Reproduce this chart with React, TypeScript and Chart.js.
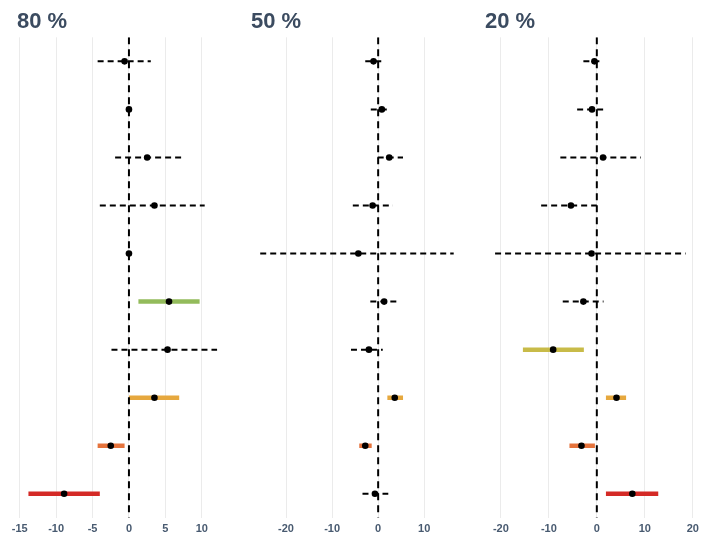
import React, { useEffect, useRef } from "react";
import { Chart, registerables } from "chart.js";

Chart.register(...registerables);

// Row positions (top to bottom) shared by all three panels
const rowIds = [1, 2, 3, 4, 5, 6, 7, 8, 9, 10];

// 80 % panel
const est80 = [-0.6, 0.0, 2.5, 3.5, 0.0, 5.5, 5.3, 3.5, -2.5, -8.9];
const lo80 = [-4.3, 0.0, -1.9, -4.0, 0.0, 1.3, -2.4, 0.0, -4.3, -13.8];
const hi80 = [3.0, 0.0, 7.3, 10.4, 0.0, 9.7, 12.1, 6.9, -0.6, -4.0];
const sig80 = ["ns", "ns", "ns", "ns", "ns", "green", "ns", "amber", "orange", "red"];
const ticks80 = [-15, -10, -5, 0, 5, 10];

// 50 % panel
const est50 = [-1.0, 0.8, 2.4, -1.2, -4.3, 1.3, -2.0, 3.6, -2.8, -0.7];
const lo50 = [-2.8, -1.6, -0.1, -5.5, -25.6, -1.7, -5.9, 2.0, -4.1, -3.4];
const hi50 = [0.8, 2.4, 5.4, 3.2, 16.4, 4.1, 1.0, 5.4, -1.4, 2.2];
const sig50 = ["ns", "ns", "ns", "ns", "ns", "ns", "ns", "amber", "orange", "ns"];
const ticks50 = [-20, -10, 0, 10];

// 20 % panel
const est20 = [-0.5, -1.0, 1.3, -5.4, -1.1, -2.8, -9.1, 4.1, -3.2, 7.4];
const lo20 = [-2.8, -4.1, -7.6, -11.6, -21.2, -7.1, -15.4, 1.9, -5.7, 1.9];
const hi20 = [1.0, 2.1, 9.2, 0.0, 18.5, 1.4, -2.7, 6.1, -0.4, 12.8];
const sig20 = ["ns", "ns", "ns", "ns", "ns", "ns", "olive", "amber", "orange", "red"];
const ticks20 = [-20, -10, 0, 10, 20];

const sigColors: Record<string, string> = {
  green: "#93bb5b",
  olive: "#c8bb48",
  amber: "#e6a83e",
  orange: "#e5733c",
  red: "#d42a26",
};

const FONT = "'Liberation Sans', Arial, sans-serif";
const TEXT = "#3b4b60";

type PanelSpec = {
  title: string;
  est: number[];
  lo: number[];
  hi: number[];
  sig: string[];
  ticks: number[];
  min: number;
  max: number;
  left: number;
  width: number;
  padLeft: number;
  padRight: number;
};

const panels: PanelSpec[] = [
  { title: "80 %", est: est80, lo: lo80, hi: hi80, sig: sig80, ticks: ticks80, min: -15.37, max: 13.05, left: 0, width: 235, padLeft: 17, padRight: 11 },
  { title: "50 %", est: est50, lo: lo50, hi: hi50, sig: sig50, ticks: ticks50, min: -27.6, max: 18.2, left: 240, width: 230, padLeft: 11, padRight: 8 },
  { title: "20 %", est: est20, lo: lo20, hi: hi20, sig: sig20, ticks: ticks20, min: -23.3, max: 20.9, left: 470, width: 234, padLeft: 15, padRight: 4 },
];

function Panel({ spec }: { spec: PanelSpec }) {
  const ref = useRef<HTMLCanvasElement | null>(null);

  useEffect(() => {
    if (!ref.current) return;
    const datasets: any[] = [];

    // confidence intervals
    rowIds.forEach((row, i) => {
      const ns = spec.sig[i] === "ns";
      datasets.push({
        type: "line",
        data: [
          { x: spec.lo[i], y: row },
          { x: spec.hi[i], y: row },
        ],
        borderColor: ns ? "#000000" : sigColors[spec.sig[i]],
        borderWidth: ns ? 2 : 4.5,
        borderDash: ns ? [6, 4] : [],
        borderCapStyle: "butt",
        pointRadius: 0,
        fill: false,
        order: 3,
      });
    });

    // reference line at zero
    datasets.push({
      type: "line",
      data: [
        { x: 0, y: 0.5 },
        { x: 0, y: 10.5 },
      ],
      borderColor: "#000000",
      borderWidth: 2,
      borderDash: [7, 5],
      borderCapStyle: "butt",
      pointRadius: 0,
      fill: false,
      order: 2,
    });

    // point estimates
    datasets.push({
      type: "scatter",
      data: rowIds.map((row, i) => ({ x: spec.est[i], y: row })),
      backgroundColor: "#000000",
      borderWidth: 0,
      pointRadius: 3.3,
      order: 1,
    });

    const chart = new Chart(ref.current, {
      type: "scatter",
      data: { datasets },
      options: {
        animation: false,
        responsive: false,
        layout: { padding: { left: spec.padLeft, right: spec.padRight, top: 0, bottom: 0 } },
        plugins: {
          legend: { display: false },
          tooltip: { enabled: false },
          title: {
            display: true,
            text: spec.title,
            align: "start",
            color: TEXT,
            font: { family: FONT, size: 22, weight: "bold" },
            padding: { top: 9, bottom: 1.9 },
          },
        },
        scales: {
          x: {
            type: "linear",
            min: spec.min,
            max: spec.max,
            afterBuildTicks: (axis: any) => {
              axis.ticks = spec.ticks.map((v) => ({ value: v }));
            },
            grid: { color: "#ebebeb", lineWidth: 1, drawTicks: false },
            border: { display: false },
            ticks: {
              padding: 5,
              color: "#485a70",
              font: { family: FONT, size: 11, weight: "bold" },
              maxRotation: 0,
              callback: (v: any) => String(v),
            },
          },
          y: {
            type: "linear",
            min: 0.5,
            max: 10.5,
            reverse: true,
            display: false,
          },
        },
      },
    });
    return () => chart.destroy();
  }, [spec]);

  return (
    <canvas
      ref={ref}
      width={spec.width}
      height={541}
      style={{ position: "absolute", left: spec.left, top: 0, width: spec.width, height: 541 }}
    />
  );
}

export default function App() {
  return (
    <div style={{ position: "absolute", left: 0, top: 0, width: 704, height: 538, overflow: "hidden", background: "#ffffff" }}>
      {panels.map((p) => (
        <Panel key={p.title} spec={p} />
      ))}
    </div>
  );
}
